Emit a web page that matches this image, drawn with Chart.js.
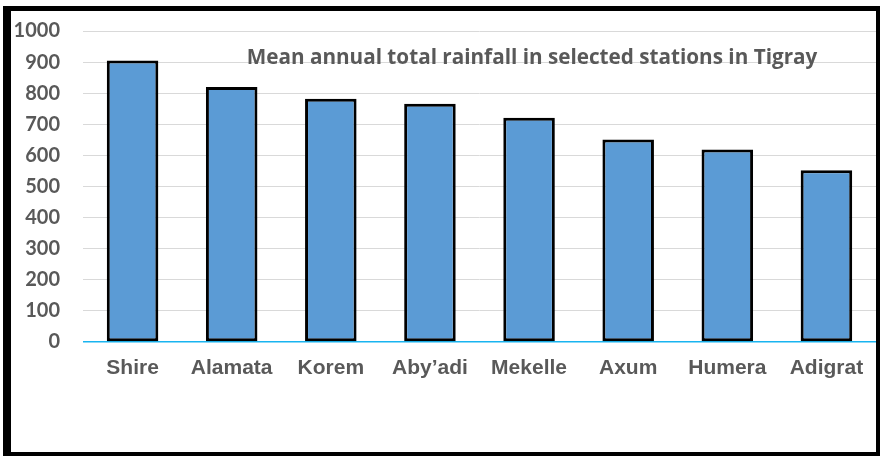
<!DOCTYPE html>
<html>
<head>
<meta charset="utf-8">
<script src="https://cdn.jsdelivr.net/npm/chart.js@4.4.1/dist/chart.umd.min.js"></script>
<style>
  html, body { margin: 0; padding: 0; background: #fff; }
  #wrap { position: relative; width: 881px; height: 456px; overflow: hidden; }
  #frame { position: absolute; left: 3px; top: 6px; width: 877px; height: 450px; box-sizing: border-box;
           border-left: 8px solid #000; border-top: 5px solid #000; border-right: 4px solid #000; border-bottom: 4px solid #000; }
  #c { position: absolute; left: 0; top: 0; }
</style>
</head>
<body>
<div id="wrap">
  <div id="frame"></div>
  <canvas id="c" width="881" height="456"></canvas>
</div>
<script>
const stations = ['Shire', 'Alamata', 'Korem', 'Aby\u2019adi', 'Mekelle', 'Axum', 'Humera', 'Adigrat'];
const rainfall = [905, 820, 782, 766, 721, 651, 619, 552];
const yTicks = [0, 100, 200, 300, 400, 500, 600, 700, 800, 900, 1000];
const chartTitle = 'Mean annual total rainfall in selected stations in Tigray';

const titlePlugin = {
  id: 'innerTitle',
  afterDraw(chart) {
    const ctx = chart.ctx;
    ctx.save();
    ctx.font = 'bold 20px "Open Sans", Lato, sans-serif';
    const w = ctx.measureText(chartTitle).width;
    const size = 20 * 571 / w;
    ctx.font = 'bold ' + size.toFixed(1) + 'px "Open Sans", Lato, sans-serif';
    ctx.fillStyle = '#595959';
    ctx.textAlign = 'center';
    ctx.textBaseline = 'alphabetic';
    ctx.fillText(chartTitle, 532, 64);
    ctx.restore();
  }
};

new Chart(document.getElementById('c'), {
  type: 'bar',
  data: {
    labels: stations,
    datasets: [{
      data: rainfall,
      backgroundColor: '#5B9BD5',
      borderColor: '#000000',
      borderWidth: 3,
      borderSkipped: false,
      barPercentage: 0.52,
      categoryPercentage: 1.0
    }]
  },
  options: {
    responsive: false,
    animation: false,
    devicePixelRatio: 1,
    layout: { padding: { left: 0, right: 5, top: 31, bottom: 0 } },
    plugins: { legend: { display: false }, tooltip: { enabled: false }, title: { display: false } },
    scales: {
      x: {
        grid: { display: false, drawTicks: false },
        border: { display: false },
        ticks: {
          color: '#595959',
          font: { family: '"Liberation Sans", Arial, sans-serif', weight: 'bold', size: 21 },
          padding: 14,
          maxRotation: 0,
          autoSkip: false
        },
        afterFit(scale) { scale.height = 114; scale.paddingLeft = 0; scale.paddingRight = 0; }
      },
      y: {
        min: 0,
        max: 1000,
        afterBuildTicks(scale) { scale.ticks = yTicks.map(v => ({ value: v })); },
        grid: {
          drawTicks: false,
          color: ctx => (ctx.tick && ctx.tick.value === 0) ? '#19B4F0' : '#D9D9D9',
          lineWidth: ctx => (ctx.tick && ctx.tick.value === 0) ? 1.5 : 1
        },
        border: { display: false },
        ticks: {
          color: '#595959',
          font: { family: 'Lato, "Open Sans", sans-serif', weight: 'bold', size: 20 },
          padding: 23,
          callback: v => String(v)
        },
        afterFit(scale) { scale.width = 83; scale.paddingTop = 0; scale.paddingBottom = 0; }
      }
    }
  },
  plugins: [titlePlugin]
});
</script>
</body>
</html>
